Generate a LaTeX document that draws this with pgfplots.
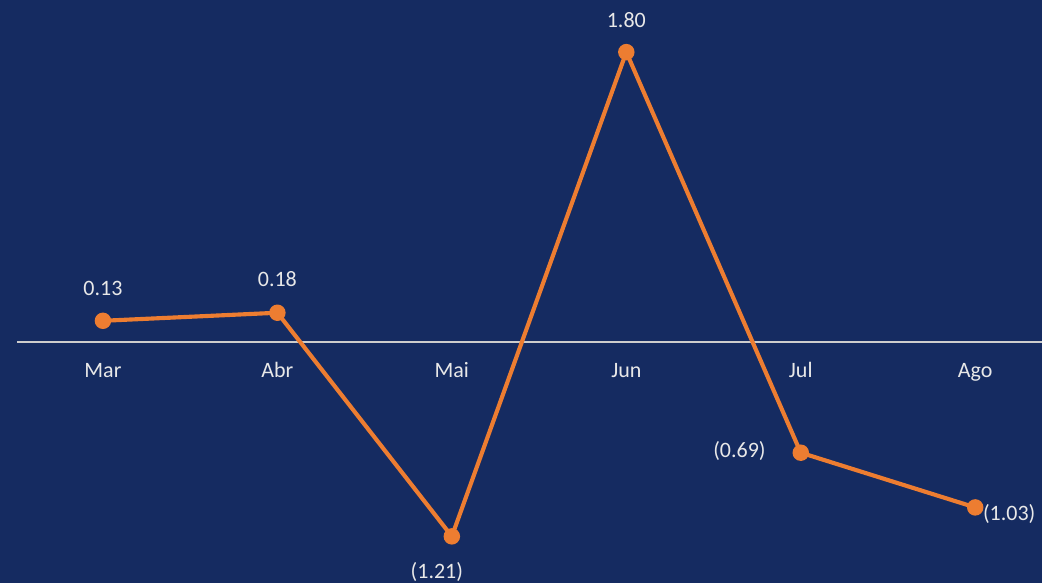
\documentclass[border=0pt]{standalone}
\usepackage{pgfplots}
\pgfplotsset{compat=1.18}
\usepackage{fontspec}
\setmainfont{Carlito}
\definecolor{navy}{RGB}{21,43,97}
\definecolor{lineorange}{RGB}{237,125,49}
\definecolor{labelgray}{RGB}{232,232,232}
\definecolor{zerogray}{RGB}{205,205,205}

\begin{document}
\begin{tikzpicture}
\begin{axis}[
    scale only axis,
    width=782.25pt, height=437.25pt,
    xmin=-0.590, xmax=5.384,
    ymin=-1.497, ymax=2.124,
    axis background/.style={fill=navy},
    axis x line=middle,
    axis y line=none,
    x axis line style={draw=none},
    xtick={0,1,2,3,4,5},
    xticklabels={Mar, Abr, Mai, Jun, Jul, Ago},
    major tick length=0pt,
    xticklabel style={anchor=base, yshift=-27pt, text=labelgray,
        font=\fontsize{16.5}{20}\selectfont},
    ytick=\empty,
    clip=false,
]
    % zero line
    \draw[zerogray, line width=1.2pt] (axis cs:-0.4926,0) -- (axis cs:5.384,0);

    \addplot[lineorange, line width=3.1pt, mark=*, mark size=4.6pt,
        mark options={fill=lineorange, draw=lineorange}]
        coordinates {
            (0, 0.13)
            (1, 0.18)
            (2, -1.21)
            (3, 1.80)
            (4, -0.69)
            (5, -1.03)
        };

    % data labels
    \begin{scope}[every node/.style={text=labelgray, font=\fontsize{16.5}{20}\selectfont, inner sep=0pt}]
    \node[yshift=24pt] at (axis cs:0,0.13) {0.13};
    \node[yshift=25.5pt] at (axis cs:1,0.18) {0.18};
    \node[xshift=-11.25pt, yshift=-27pt] at (axis cs:2,-1.21) {(1.21)};
    \node[yshift=24pt] at (axis cs:3,1.80) {1.80};
    \node[xshift=-46pt, yshift=1.5pt] at (axis cs:4,-0.69) {(0.69)};
    \node[xshift=25.5pt, yshift=-5.25pt] at (axis cs:5,-1.03) {(1.03)};
    \end{scope}
\end{axis}
\end{tikzpicture}
\end{document}
